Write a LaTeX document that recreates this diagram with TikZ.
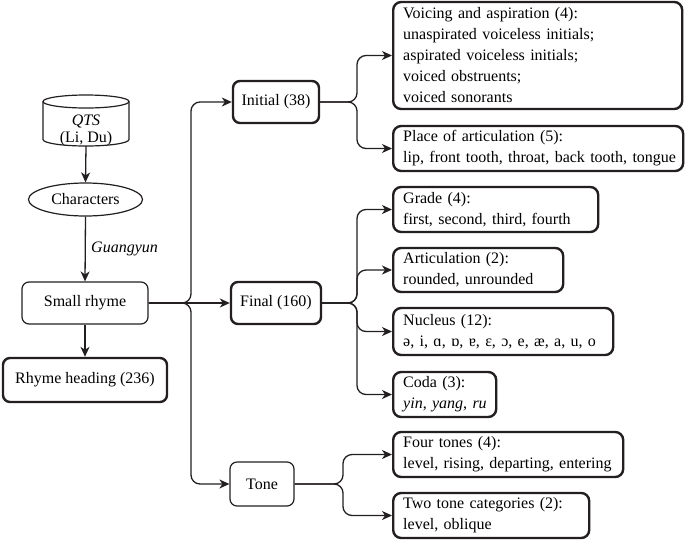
\documentclass[tikz,border=0pt]{standalone}
\usepackage{fontspec}
\setmainfont{LiberationSerif}[Extension=.ttf, UprightFont=*-Regular, ItalicFont=*-Italic, BoldFont=*-Bold, BoldItalicFont=*-BoldItalic]
\usetikzlibrary{arrows.meta,shapes.geometric}
\definecolor{ink}{RGB}{35,31,32}
\begin{document}
\begin{tikzpicture}[x=1pt,y=-1pt,
  font=\fontsize{16}{21}\selectfont,
  thinbox/.style={draw=ink, line width=1.2pt, rounded corners=7pt, inner sep=0pt},
  thickbox/.style={draw=ink, line width=2.4pt, rounded corners=7pt, inner sep=0pt},
  infobox/.style={draw=ink, line width=2.4pt, rounded corners=8pt, anchor=west, align=left, inner xsep=10pt, inner ysep=0pt},
  conn/.style={draw=ink, line width=1.3pt, -{Stealth[length=10pt,width=9pt,inset=3pt]}},
  brace/.style={conn, rounded corners=9pt}]
\useasboundingbox (0,0) rectangle (685,539);

% cylinder QTS
\node[minimum width=86pt, minimum height=51pt, inner sep=0pt] (qts) at (86,120.5) {};
\draw[ink, line width=1.2pt] (86,101.5) ellipse [x radius=43pt, y radius=6.5pt];
\draw[ink, line width=1.2pt] (43,101.5) -- (43,139.5) arc[start angle=180, end angle=360, x radius=43pt, y radius=6.5pt] -- (129,101.5);
\node[inner sep=0pt] (qtsA) at (86,121) {\itshape QTS};
\node[inner sep=0pt] (qtsB) at (86,139) {(Li, Du)};

\node[ellipse, draw=ink, line width=1.2pt, minimum width=114pt, minimum height=33pt, inner sep=0pt] (chars) at (85.5,199.5) {Characters};

\node[thinbox, minimum width=126pt, minimum height=42pt] (sr) at (85,303) {Small rhyme};
\node[thickbox, minimum width=164pt, minimum height=44pt] (rh) at (85,380) {Rhyme heading (236)};

\node[thickbox, minimum width=86pt, minimum height=42pt] (init) at (276,102) {Initial (38)};
\node[thickbox, minimum width=90pt, minimum height=42pt] (final) at (276,303) {Final (160)};
\node[thinbox, minimum width=64pt, minimum height=44pt] (tone) at (262,484) {Tone};

\node[infobox, text width=269pt, minimum height=107pt] (voice) at (392,55.5)
  {\mbox{Voicing and aspiration (4):}\\\mbox{unaspirated voiceless initials;}\\\mbox{aspirated voiceless initials;}\\\mbox{voiced obstruents;}\\\mbox{voiced sonorants}};
\node[infobox, text width=270pt, minimum height=45pt] (place) at (392,148.5)
  {\mbox{Place of articulation (5):}\\\mbox{lip, front tooth, throat, back tooth, tongue}};
\node[infobox, text width=185pt, minimum height=45pt] (grade) at (392,209.5)
  {\mbox{Grade (4):}\\\mbox{first, second, third, fourth}};
\node[infobox, text width=150pt, minimum height=44pt] (artic) at (392,270)
  {\mbox{Articulation (2):}\\\mbox{rounded, unrounded}};
\node[infobox, text width=200pt, minimum height=47pt] (nucleus) at (392,331.5)
  {\mbox{Nucleus (12):}\\\mbox{ə, i, ɑ, ɒ, ɐ, ɛ, ɔ, e, æ, a, u, o}};
\node[infobox, text width=83pt, minimum height=45pt] (coda) at (392,394.5)
  {\mbox{Coda (3):}\\\mbox{\itshape yin\upshape, \itshape yang\upshape, \itshape ru}};
\node[infobox, text width=210pt, minimum height=45pt] (four) at (392,454.5)
  {\mbox{Four tones (4):}\\\mbox{level, rising, departing, entering}};
\node[infobox, text width=176pt, minimum height=45pt] (two) at (392,515.5)
  {\mbox{Two tone categories (2):}\\\mbox{level, oblique}};

\coordinate (tx) at (191,0);
\coordinate (ix) at (357,0);
\coordinate (fx) at (357,0);
\coordinate (ox) at (343,0);

\draw[conn] (qts.south) -- (chars.north);
\draw[conn] (chars.south) -- node[right, xshift=2pt, font=\fontsize{16}{21}\selectfont\itshape] {Guangyun} (sr.north);
\draw[conn] (sr.south) -- (rh.north);

\draw[brace] (sr.east) -- (sr.east -| tx) |- (init.west);
\draw[conn] (sr.east) -- (final.west);
\draw[brace] (sr.east) -- (sr.east -| tx) |- (tone.west);

\draw[brace] (init.east) -- (init.east -| ix) |- (voice.west);
\draw[brace] (init.east) -- (init.east -| ix) |- (place.west);

\draw[brace] (final.east) -- (final.east -| fx) |- (grade.west);
\draw[brace] (final.east) -- (final.east -| fx) |- (artic.west);
\draw[brace] (final.east) -- (final.east -| fx) |- (nucleus.west);
\draw[brace] (final.east) -- (final.east -| fx) |- (coda.west);

\draw[brace] (tone.east) -- (tone.east -| ox) |- (four.west);
\draw[brace] (tone.east) -- (tone.east -| ox) |- (two.west);
\end{tikzpicture}
\end{document}
